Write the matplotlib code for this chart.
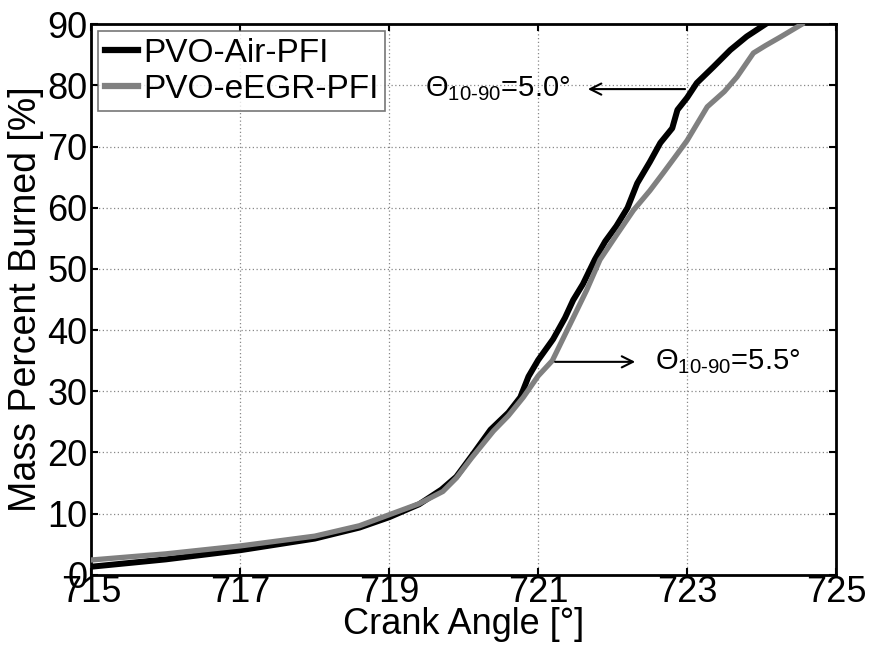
import numpy as np
import matplotlib
matplotlib.use("Agg")
import matplotlib.pyplot as plt

plt.rcParams['font.family'] = ['Liberation Sans', 'DejaVu Sans']
plt.rcParams['mathtext.fontset'] = 'custom'
plt.rcParams['mathtext.rm'] = 'Liberation Sans'
plt.rcParams['mathtext.it'] = 'Liberation Sans'

# crank angle [deg] vs mass fraction burned [%]
ca_air = [715.0, 716.0, 717.0, 718.0, 718.6, 719.0, 719.4, 719.7, 719.9, 720.1,
          720.36, 720.6, 720.76, 720.87, 721.0, 721.2, 721.36, 721.47, 721.6,
          721.76, 721.9, 722.05, 722.2, 722.33, 722.5, 722.64, 722.8, 722.87,
          723.0, 723.13, 723.35, 723.58, 723.8, 724.05]
mfb_air = [1.3, 2.5, 4.0, 5.9, 7.7, 9.4, 11.5, 13.9, 16.0, 19.3,
           23.7, 26.5, 29.0, 32.4, 35.1, 38.5, 42.0, 44.9, 47.5,
           51.5, 54.5, 57.0, 60.0, 64.0, 67.5, 70.6, 73.0, 76.0,
           78.0, 80.4, 83.0, 85.8, 88.0, 90.0]

ca_egr = [715.0, 716.0, 717.0, 718.0, 718.6, 719.0, 719.4, 719.72, 719.9, 720.1,
          720.4, 720.6, 720.8, 721.0, 721.19, 721.33, 721.47, 721.65, 721.83, 722.05,
          722.28, 722.5, 722.68, 722.85, 723.0, 723.27, 723.5, 723.67, 723.89,
          724.05, 724.25, 724.54]
mfb_egr = [2.4, 3.4, 4.7, 6.3, 8.0, 9.8, 11.6, 13.6, 15.8, 19.0,
           23.5, 26.0, 29.0, 32.5, 35.0, 38.5, 42.0, 46.5, 51.5, 55.5,
           59.6, 62.8, 65.7, 68.5, 71.0, 76.5, 79.0, 81.4, 85.3,
           86.5, 87.9, 90.0]

burn_labels = [r'$\Theta_{10\text{-}90}$=5.0°', r'$\Theta_{10\text{-}90}$=5.5°']

fig, ax = plt.subplots(figsize=(8.7, 6.56), dpi=100)
fig.subplots_adjust(left=0.105, right=0.961, bottom=0.124, top=0.963)

ax.plot(ca_air, mfb_air, color='black', lw=4.3, label='PVO-Air-PFI', zorder=3)
ax.plot(ca_egr, mfb_egr, color='#808080', lw=3.8, label='PVO-eEGR-PFI', zorder=3)

ax.set_xlim(715, 725)
ax.set_ylim(0, 90)
ax.set_xticks(np.arange(715, 726, 2))
ax.set_yticks(np.arange(0, 91, 10))
ax.tick_params(direction='in', length=5, width=1.5, labelsize=26,
               top=True, right=True)
ax.tick_params(axis='x', pad=0)
ax.tick_params(axis='y', pad=3)
ax.grid(True, linestyle=(0, (1, 2)), color='#888888', lw=0.9)
for s in ax.spines.values():
    s.set_linewidth(2)

ax.set_xlabel('Crank Angle [°]', fontsize=26, labelpad=-2)
ax.set_ylabel('Mass Percent Burned [%]', fontsize=27, labelpad=2)

ax.annotate('', xy=(721.63, 79.4), xytext=(723.01, 79.4),
            arrowprops=dict(arrowstyle='->', color='black', lw=1.5,
                            mutation_scale=20))
ax.text(721.43, 79.4, burn_labels[0], fontsize=21, ha='right', va='center')

ax.annotate('', xy=(722.34, 34.8), xytext=(721.19, 34.8),
            arrowprops=dict(arrowstyle='->', color='black', lw=1.5,
                            mutation_scale=20))
ax.text(722.57, 34.8, burn_labels[1], fontsize=21, ha='left', va='center')

leg = ax.legend(loc='upper left', fontsize=24, frameon=True, fancybox=False,
                handlelength=1.0, handletextpad=0.15, borderpad=0.2,
                labelspacing=0.15, borderaxespad=0.2, edgecolor='#555555')
leg.get_frame().set_linewidth(1.2)
for h in leg.get_lines():
    h.set_linewidth(4.5)

fig.savefig('out.png', dpi=100)
